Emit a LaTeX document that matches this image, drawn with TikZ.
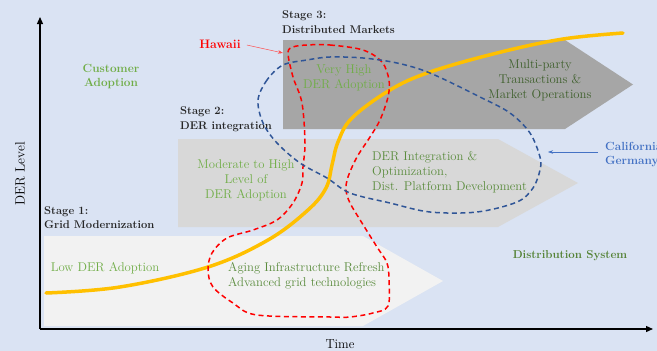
\documentclass[tikz,border=0pt]{standalone}
\usetikzlibrary{arrows.meta}
\definecolor{bgblue}{HTML}{DAE3F3}
\definecolor{boxone}{HTML}{F2F2F2}
\definecolor{boxtwo}{HTML}{D8D8D8}
\definecolor{boxthree}{HTML}{A6A6A6}
\definecolor{lgreen}{HTML}{70AD47}
\definecolor{mgreen}{HTML}{5B8C3E}
\definecolor{dgreen}{HTML}{3E5F2B}
\definecolor{sgreen}{HTML}{548235}
\definecolor{cblue}{HTML}{4472C4}
\definecolor{dblue}{HTML}{2F5597}
\definecolor{curveyellow}{HTML}{FFC000}
\definecolor{hred}{HTML}{FF0000}
\tikzset{
  txt/.style={font=\fontsize{12.7}{15}\selectfont, inner sep=0pt, align=center},
  stagelbl/.style={font=\fontsize{11.2}{14.5}\selectfont\bfseries, inner sep=0pt, align=left, anchor=west, text=black!85},
  dashline/.style={dash pattern=on 5pt off 3.5pt, line width=1.5pt},
  axisline/.style={line width=1.3pt, -{Triangle[length=7pt,width=6pt]}},
  pointer/.style={line width=0.5pt, -{Stealth[length=5pt,width=3.5pt]}}
}
\begin{document}
\begin{tikzpicture}[x=1pt,y=-1pt]
\useasboundingbox (0,0) rectangle (657,351);
\clip (0,0) rectangle (657,351);
\fill[bgblue] (0,0) rectangle (657,351);
% stage boxes
\fill[boxone] (44,236) -- (363,236) -- (443,281) -- (363,326) -- (44,326) -- cycle;
\fill[boxtwo] (178,139) -- (498,139) -- (578,183) -- (498,227) -- (178,227) -- cycle;
\fill[boxthree] (283,40) -- (565,40) -- (633,84.5) -- (565,129) -- (283,129) -- cycle;
% axes
\coordinate (origin) at (40,329);
\coordinate (ytop) at (40,17);
\coordinate (xend) at (653,329);
\draw[axisline] (origin) -- (ytop);
\draw[axisline] (origin) -- (xend);
\node[txt, rotate=90, font=\fontsize{13.5}{15}\selectfont] (ylab) at (20,174) {DER Level};
\node[txt, font=\fontsize{13}{15}\selectfont] (xlab) at (340,344) {Time};
% texts in boxes
\node[txt, text=lgreen] (low) at (105,268) {Low DER Adoption};
\node[txt, text=mgreen, align=left, anchor=west] (aging) at (228,275.5) {Aging Infrastructure Refresh\\Advanced grid technologies};
\node[txt, text=lgreen] (moderate) at (246,180) {Moderate to High\\Level of\\DER Adoption};
\node[txt, text=mgreen, align=left, anchor=west] (integ) at (372,172.5) {DER Integration \&\\Optimization,\\Dist. Platform Development};
\node[txt, text=lgreen] (veryhigh) at (344,77.5) {Very High\\DER Adoption};
\node[txt, text=dgreen] (multi) at (540,80) {Multi-party\\Transactions \&\\Market Operations};
% stage labels
\node[stagelbl] (s1) at (44,217.5) {Stage 1:\\Grid Modernization};
\node[stagelbl] (s2) at (180,119) {Stage 2:\\DER integration};
\node[stagelbl] (s3) at (282,22) {Stage 3:\\Distributed Markets};
% side labels
\node[txt, text=lgreen, font=\fontsize{11.8}{13.5}\selectfont\bfseries] (cust) at (111,76.5) {Customer\\Adoption};
\node[txt, text=sgreen, font=\fontsize{11.5}{14}\selectfont\bfseries] (dist) at (570,256) {Distribution System};
\node[txt, text=hred, font=\fontsize{12.3}{14}\selectfont\bfseries] (hawaii) at (220,44) {Hawaii};
\node[txt, text=cblue, align=left, anchor=west, font=\fontsize{11.8}{14.5}\selectfont\bfseries] (calif) at (605,154.5) {California\\Germany};
% curves
\draw[curveyellow, line width=3.5pt, line cap=round] plot[smooth, tension=0.6] coordinates {
 (46,293) (120,287) (208,267) (268,240) (308,210) (326,188) (332,165) (338,142) (352,118) (390,90) (430,72) (497,53) (563,39) (623,33)};
\draw[hred, dashline] plot[smooth cycle, tension=0.55] coordinates {
 (307,45) (330,45) (363,50) (382,62) (389,80) (388,97) (380,120) (370,137) (357,157) (348,177) (346,190) (350,203) (362,223) (377,247) (387,263) (389,280) (388,306) (373,313) (350,317) (330,317) (257,315) (233,303) (213,287) (208,270) (212,253) (227,238) (253,230) (277,220) (293,203) (302,183) (303,167) (305,143) (302,103) (293,77) (288,53) (293,47)};
\draw[dblue, dashline] plot[smooth cycle, tension=0.55] coordinates {
 (283,65) (267,80) (258,100) (263,123) (277,143) (300,163) (327,178) (350,193) (390,203) (430,212) (477,212) (517,202) (533,188) (540,170) (540,157) (530,133) (510,113) (480,97) (430,73) (397,63) (363,58) (330,57) (307,60)};
% pointers
\coordinate (hawaiiend) at (283,53);
\coordinate (califend) at (548,152);
\draw[pointer, hred!70] (hawaii.east) ++(6,1) -- (hawaiiend);
\draw[pointer, cblue] (calif.west) ++(-7,-2.5) -- (califend);
\end{tikzpicture}
\end{document}
